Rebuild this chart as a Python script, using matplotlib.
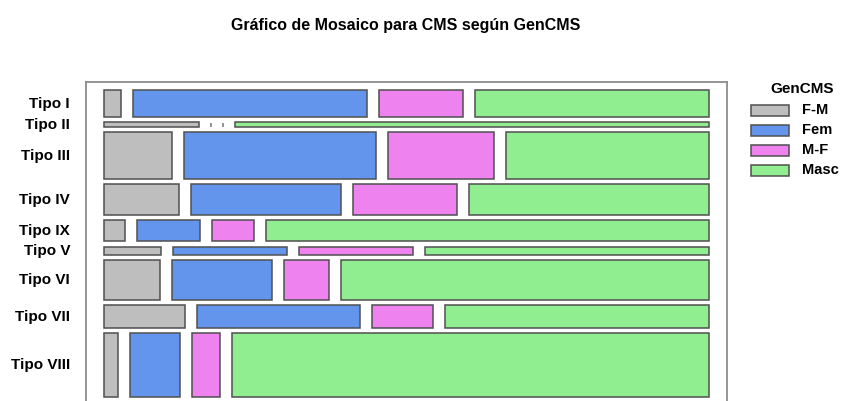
import matplotlib
matplotlib.use("Agg")
from matplotlib import pyplot as plt
from matplotlib.patches import Rectangle

# counts per Tipo (rows) and GenCMS (columns)
tipos = ["Tipo I", "Tipo II", "Tipo III", "Tipo IV", "Tipo IX",
         "Tipo V", "Tipo VI", "Tipo VII", "Tipo VIII"]
gen_labels = ["F-M", "Fem", "M-F", "Masc"]
f_m = [1, 1, 7, 5, 1, 1, 5, 4, 2]
fem = [14, 0, 20, 10, 3, 2, 9, 8, 7]
m_f = [5, 0, 11, 7, 2, 2, 4, 3, 4]
masc = [14, 5, 21, 16, 21, 5, 33, 13, 67]
colors = ["#BEBEBE", "#6495ED", "#EE82EE", "#90EE90"]

W, H = 842, 401
FONT = ["Liberation Sans", "DejaVu Sans"]


def fx(px):
    return px / W


def fy(py):
    return 1 - py / H


def main():
    fig = plt.figure(figsize=(W / 100, H / 100), dpi=100)

    # panel from x=86..727, y=82..405 (bottom is cut by the figure edge)
    ax = fig.add_axes([fx(86), fy(405), fx(727) - fx(86), fy(82) - fy(405)])

    cols = [f_m, fem, m_f, masc]
    totals = [sum(c[i] for c in cols) for i in range(len(tipos))]

    xgap = 12 / 569          # horizontal gap in proportion units
    ygap = 6.25              # vertical gap in count units
    xmargin = 18 / 569
    ymargin = 10

    y = 0
    for i, tipo in enumerate(tipos):
        h = totals[i]
        x = 0
        for j, c in enumerate(cols):
            w = c[i] / totals[i]
            if c[i] == 0:
                ax.vlines(x, y + h * 0.15, y + h, color="#808080", lw=1.2)
            else:
                ax.add_patch(Rectangle((x, y), w, h, facecolor=colors[j],
                                       edgecolor="#505050", lw=1.1))
            x += w + xgap
        ax.text(-xmargin - 16 / 569, y + h / 2, tipo, ha="right", va="center",
                fontsize=11, fontweight="bold", family=FONT,
                clip_on=False)
        y += h + ygap
    y -= ygap

    ax.set_xlim(-xmargin, 1 + 3 * xgap + xmargin)
    ax.set_ylim(y + ymargin, -ymargin)
    ax.set_xticks([])
    ax.set_yticks([])
    for s in ax.spines.values():
        s.set_color("#8C8C8C")
        s.set_linewidth(1.3)

    fig.text(fx(406), fy(25.5), "Gráfico de Mosaico para CMS según GenCMS",
             ha="center", va="center", fontsize=11.5, fontweight="bold",
             family=FONT)

    # legend
    fig.text(fx(802), fy(89), "GenCMS", ha="center", va="center",
             fontsize=11, fontweight="bold", family=FONT)
    for k, lab in enumerate(gen_labels):
        yc = 110 + k * 20
        fig.add_artist(Rectangle((fx(751), fy(yc + 5.5)), fx(38), 11 / H,
                                 transform=fig.transFigure,
                                 facecolor=colors[k], edgecolor="#505050",
                                 lw=1.1))
        fig.text(fx(802), fy(yc), lab, ha="left", va="center",
                 fontsize=10.5, fontweight="bold", family=FONT)

    fig.savefig("out.png", dpi=100)


if __name__ == "__main__":
    main()
